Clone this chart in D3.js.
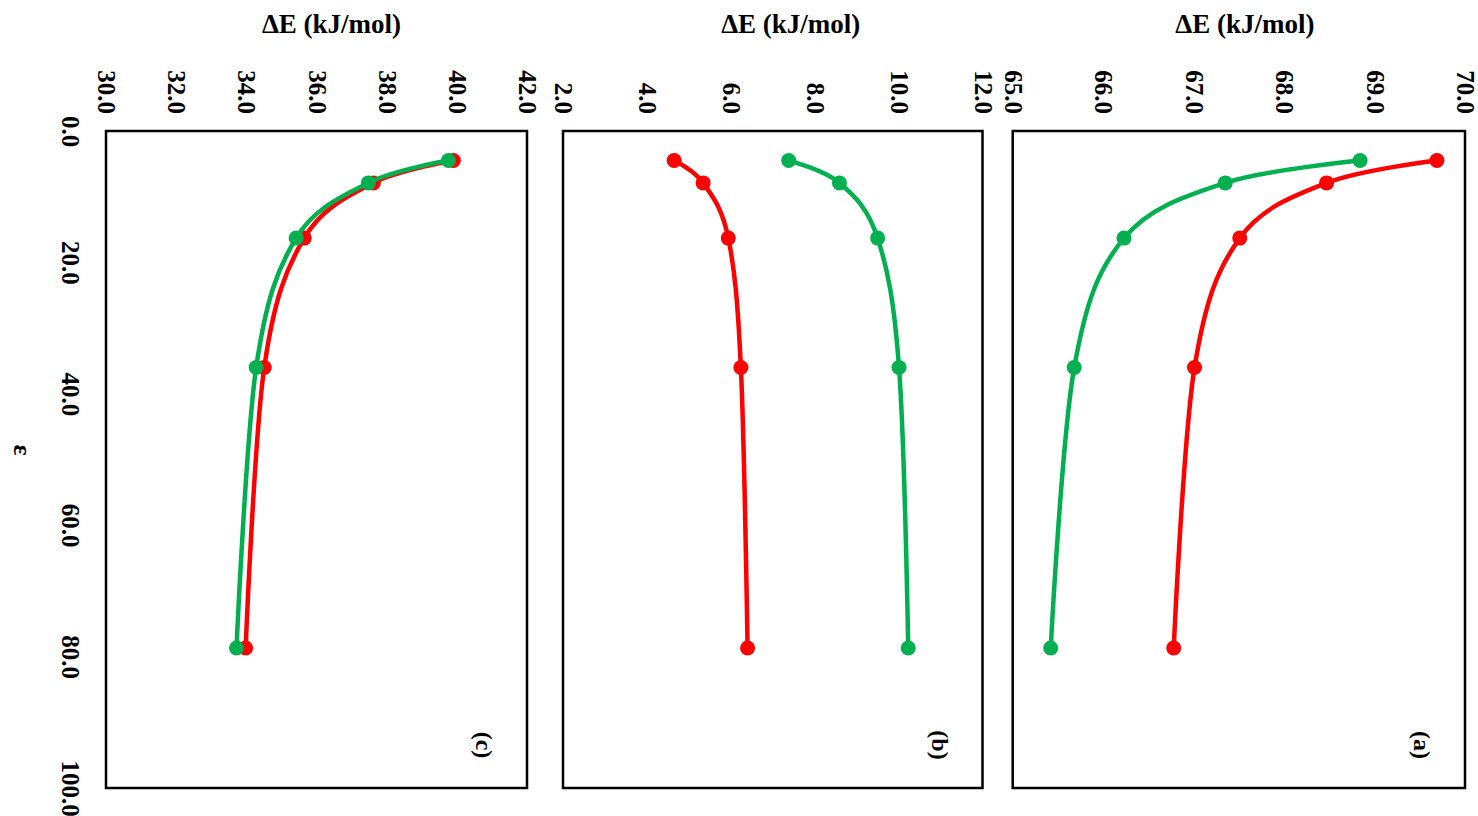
<!DOCTYPE html>
<html>
<head>
<meta charset="utf-8">
<script src="https://cdn.jsdelivr.net/npm/d3@7"></script>
<style>
  body { margin: 0; background: #fff; }
  text { font-family: "Liberation Serif", "Times New Roman", serif; font-weight: bold; fill: #000; }
</style>
</head>
<body>
<div class="chart"></div>
<script>
// DATA ------------------------------------
const epsilon = [4.5, 7.9, 16.3, 36.0, 78.7]

const dE_a_red = [69.69, 68.47, 67.51, 67.01, 66.78]
const dE_a_green = [68.84, 67.35, 66.23, 65.68, 65.42]
const dE_b_red = [4.65, 5.34, 5.94, 6.24, 6.40]
const dE_b_green = [7.38, 8.59, 9.50, 10.01, 10.23]
const dE_c_red = [39.90, 37.62, 35.65, 34.51, 33.98]
const dE_c_green = [39.76, 37.48, 35.42, 34.28, 33.72]

const epsTicks = [0, 20, 40, 60, 80, 100]
const ticks_a = [65, 66, 67, 68, 69, 70]
const ticks_b = [2, 4, 6, 8, 10, 12]
const ticks_c = [30, 32, 34, 36, 38, 40, 42]

// CHART INIT ------------------------------
const width = 1478
const height = 816
const plotTop = 131, plotBottom = 788

const colors = {red: "#ff0000", green: "#00b050"}

// panel layout (the figure is rotated: ε runs down, ΔE runs across)
const panels = [
    {name: "(c)", left: 106, right: 527, ticks: ticks_c, red: dE_c_red, green: dE_c_green, titleShift: 15},
    {name: "(b)", left: 563, right: 982.5, ticks: ticks_b, red: dE_b_red, green: dE_b_green, titleShift: 18},
    {name: "(a)", left: 1012.7, right: 1465, ticks: ticks_a, red: dE_a_red, green: dE_a_green, titleShift: 6}
]

const svg = d3.select(".chart").append("svg")
        .attr("width", width)
        .attr("height", height)
        .style("display", "block")

svg.append("rect")
    .attr("width", width)
    .attr("height", height)
    .attr("fill", "#fff")

// ε scale shared by all panels
const yScale = d3.scaleLinear()
    .domain([0, 100])
    .range([plotTop, plotBottom])

const yAx = d3.axisLeft(yScale)
    .tickValues(epsTicks)
    .tickFormat(d3.format(".1f"))
    .tickSize(0)

svg.append("g")
    .attr("class", "y-axis")
    .call(yAx)
    .call(g => g.select(".domain").remove())
    .call(g => g.selectAll("text")
        .attr("x", null)
        .attr("dy", null)
        .attr("transform", "translate(70,0) rotate(90)")
        .attr("text-anchor", "middle")
        .attr("dominant-baseline", "central")
        .style("font-size", "25px"))

svg.append("text")
    .attr("transform", "translate(22,450) rotate(90)")
    .attr("text-anchor", "middle")
    .attr("dominant-baseline", "central")
    .style("font-size", "26px")
    .text("ε")

const line = d3.line().curve(d3.curveCardinal)

// PANELS ----------------------------------
panels.forEach(p => {
    const xScale = d3.scaleLinear()
        .domain(d3.extent(p.ticks))
        .range([p.left, p.right])

    const xAx = d3.axisTop(xScale)
        .tickValues(p.ticks)
        .tickFormat(d3.format(".1f"))
        .tickSize(0)

    svg.append("g")
        .attr("class", "x-axis")
        .attr("transform", `translate(0, ${plotTop})`)
        .call(xAx)
        .call(g => g.select(".domain").remove())
        .call(g => g.selectAll("text")
            .attr("y", null)
            .attr("dy", null)
            .attr("transform", "translate(0,-17) rotate(90)")
            .attr("text-anchor", "end")
            .attr("dominant-baseline", "central")
            .style("font-size", "25px"))

    // axis title
    svg.append("text")
        .attr("x", (p.left + p.right) / 2 + p.titleShift)
        .attr("y", 33)
        .attr("text-anchor", "middle")
        .style("font-size", "27px")
        .text("ΔE (kJ/mol)")

    // frame
    svg.append("rect")
        .attr("x", p.left)
        .attr("y", plotTop)
        .attr("width", p.right - p.left)
        .attr("height", plotBottom - plotTop)
        .attr("fill", "none")
        .attr("stroke", "#000")
        .attr("stroke-width", 2.5)

    ;["red", "green"].forEach(key => {
        const pts = epsilon.map((e, i) => [xScale(p[key][i]), yScale(e)])
        svg.append("path")
            .attr("d", line(pts))
            .attr("fill", "none")
            .attr("stroke", colors[key])
            .attr("stroke-width", 4.5)
        svg.append("g")
            .selectAll("circle")
            .data(pts)
            .join("circle")
                .attr("cx", d => d[0])
                .attr("cy", d => d[1])
                .attr("r", 7.5)
                .attr("fill", colors[key])
    })

    // panel label
    svg.append("text")
        .attr("transform", `translate(${p.right - 43},${plotBottom - 43}) rotate(90)`)
        .attr("text-anchor", "middle")
        .attr("dominant-baseline", "central")
        .style("font-size", "24px")
        .text(p.name)
})
</script>
</body>
</html>
